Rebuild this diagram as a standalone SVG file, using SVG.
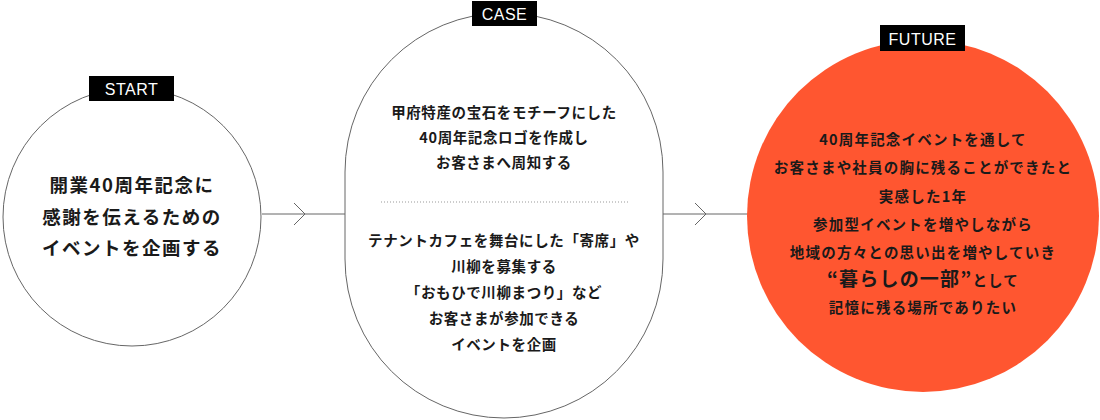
<svg xmlns="http://www.w3.org/2000/svg" width="1100" height="420" viewBox="0 0 1100 420">
<style>
.outline{fill:#fff;stroke:#666;stroke-width:1}
.lbl{fill:#000}
.lbltxt{fill:#fff;font-family:"Liberation Sans",Arial,sans-serif;font-size:16px;text-anchor:middle;letter-spacing:0.5px}
.jp{fill:#1a1a1a;font-family:"Noto Sans CJK JP","Noto Sans",sans-serif;font-weight:700;text-anchor:middle}
.s1{font-size:18.5px;letter-spacing:1.5px}
.s2{font-size:14.5px;letter-spacing:0.6px}
.s3{font-size:14.5px;letter-spacing:1.2px}
.conn{stroke:#666;stroke-width:1;fill:none}
</style>
<g id="connectors">
<line class="conn" x1="262" y1="214" x2="345" y2="214"/>
<polyline class="conn" points="294,203 305,214 294,225"/>
<line class="conn" x1="663" y1="214" x2="748" y2="214"/>
<polyline class="conn" points="695,203 706,214 695,225"/>
</g>
<g id="start">
<circle class="outline" cx="132" cy="217" r="129"/>
<rect class="lbl" x="89" y="76" width="85" height="25"/>
<text class="lbltxt" x="131.5" y="94.5">START</text>
<text class="jp s1" x="132" y="192">開業40周年記念に</text>
<text class="jp s1" x="132" y="224">感謝を伝えるための</text>
<text class="jp s1" x="132" y="255">イベントを企画する</text>
</g>
<g id="case">
<rect class="outline" x="345" y="13" width="318" height="405" rx="159" ry="159"/>
<rect class="lbl" x="472" y="1" width="65" height="25"/>
<text class="lbltxt" x="504.5" y="19.5">CASE</text>
<text class="jp s2" x="504" y="118" letter-spacing="1.2">甲府特産の宝石をモチーフにした</text>
<text class="jp s2" x="504" y="143" letter-spacing="1">40周年記念ロゴを作成し</text>
<text class="jp s2" x="504" y="168" letter-spacing="1">お客さまへ周知する</text>
<line x1="381" y1="202" x2="630" y2="202" stroke="#999" stroke-width="1" stroke-dasharray="1,2"/>
<text class="jp s2" x="504" y="246">テナントカフェを舞台にした「寄席」や</text>
<text class="jp s2" x="504" y="272">川柳を募集する</text>
<text class="jp s2" x="504" y="298">「おもひで川柳まつり」など</text>
<text class="jp s2" x="504" y="324">お客さまが参加できる</text>
<text class="jp s2" x="504" y="350">イベントを企画</text>
</g>
<g id="future">
<circle cx="923" cy="216" r="176" fill="#ff5630"/>
<rect class="lbl" x="880" y="25" width="85" height="26"/>
<text class="lbltxt" x="922.5" y="44.5">FUTURE</text>
<text class="jp s3" x="923" y="145">40周年記念イベントを通して</text>
<text class="jp s3" x="923" y="173">お客さまや社員の胸に残ることができたと</text>
<text class="jp s3" x="923" y="202">実感した1年</text>
<text class="jp s3" x="923" y="230">参加型イベントを増やしながら</text>
<text class="jp s3" x="923" y="258">地域の方々との思い出を増やしていき</text>
<text class="jp s3" x="923" y="286"><tspan font-size="19px">“暮らしの一部”</tspan>として</text>
<text class="jp s3" x="923" y="313">記憶に残る場所でありたい</text>
</g>
</svg>
